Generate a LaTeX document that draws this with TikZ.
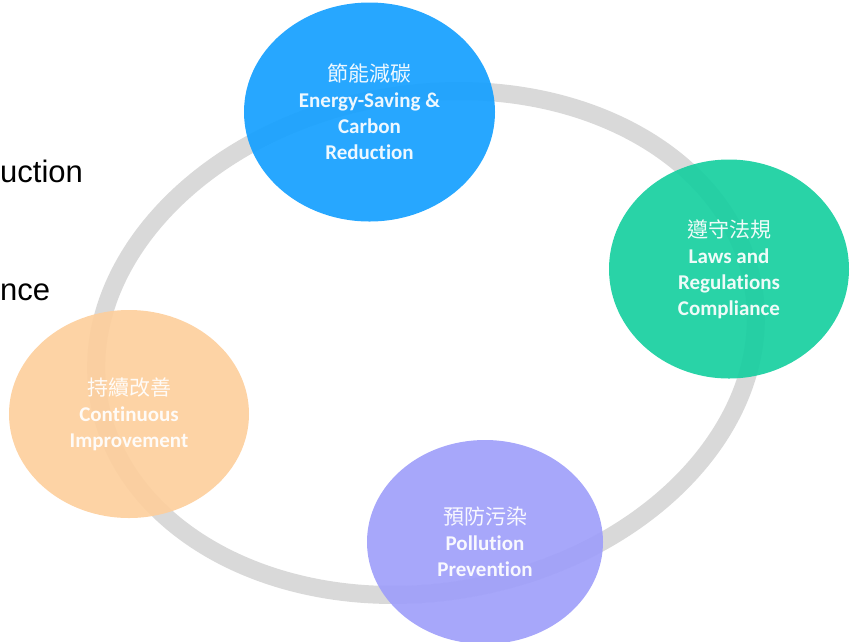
\documentclass[tikz,border=0pt]{standalone}
\usepackage{fontspec}
\setmainfont{Carlito}[Ligatures=NoCommon]
\newfontfamily\cjk{Noto Sans CJK TC}
\newfontfamily\arialfont{Liberation Sans}
\usetikzlibrary{shapes.geometric}
\definecolor{ringgray}{RGB}{217,217,217}
\definecolor{bubblue}{RGB}{21,160,255}
\definecolor{bubgreen}{RGB}{23,207,160}
\definecolor{buborange}{RGB}{253,207,157}
\definecolor{bubpurple}{RGB}{159,159,250}
\newcommand{\zh}[1]{{\cjk\mdseries\fontsize{21}{26}\selectfont #1}}

\begin{document}
\begin{tikzpicture}[x=1pt,y=-1pt,
  bubble/.style={ellipse,inner sep=0pt,draw=none,fill opacity=0.92,text=white,
    align=center,font=\bfseries\fontsize{21}{26}\selectfont},
  sidetext/.style={anchor=base west,inner sep=0pt,font=\arialfont\fontsize{31}{36}\selectfont}]
\useasboundingbox (0,0) rectangle (856,641);

% Cut-off side text
\node[sidetext] (reduct) at (0,182) {uction};
\node[sidetext] (compl) at (0,300) {nce};

% Ring
\draw[ringgray,line width=18pt,rotate around={10:(426,343)}]
  (426,343) ellipse [x radius=332pt,y radius=249pt];

% Bubbles
\node[bubble,fill=bubblue,minimum width=251pt,minimum height=219pt] (saving) at (369.5,112)
  {\zh{節能減碳}\\Energy-Saving \&\\Carbon\\Reduction};
\node[bubble,fill=bubgreen,minimum width=240pt,minimum height=219pt] (laws) at (729,269)
  {\zh{遵守法規}\\Laws and\\Regulations\\Compliance};
\node[bubble,fill=buborange,minimum width=240pt,minimum height=208pt] (improve) at (129,414)
  {\zh{持續改善}\\Continuous\\Improvement};
\node[bubble,fill=bubpurple,minimum width=236pt,minimum height=204pt] (pollution) at (485,542)
  {\zh{預防污染}\\Pollution\\Prevention};
\end{tikzpicture}
\end{document}
